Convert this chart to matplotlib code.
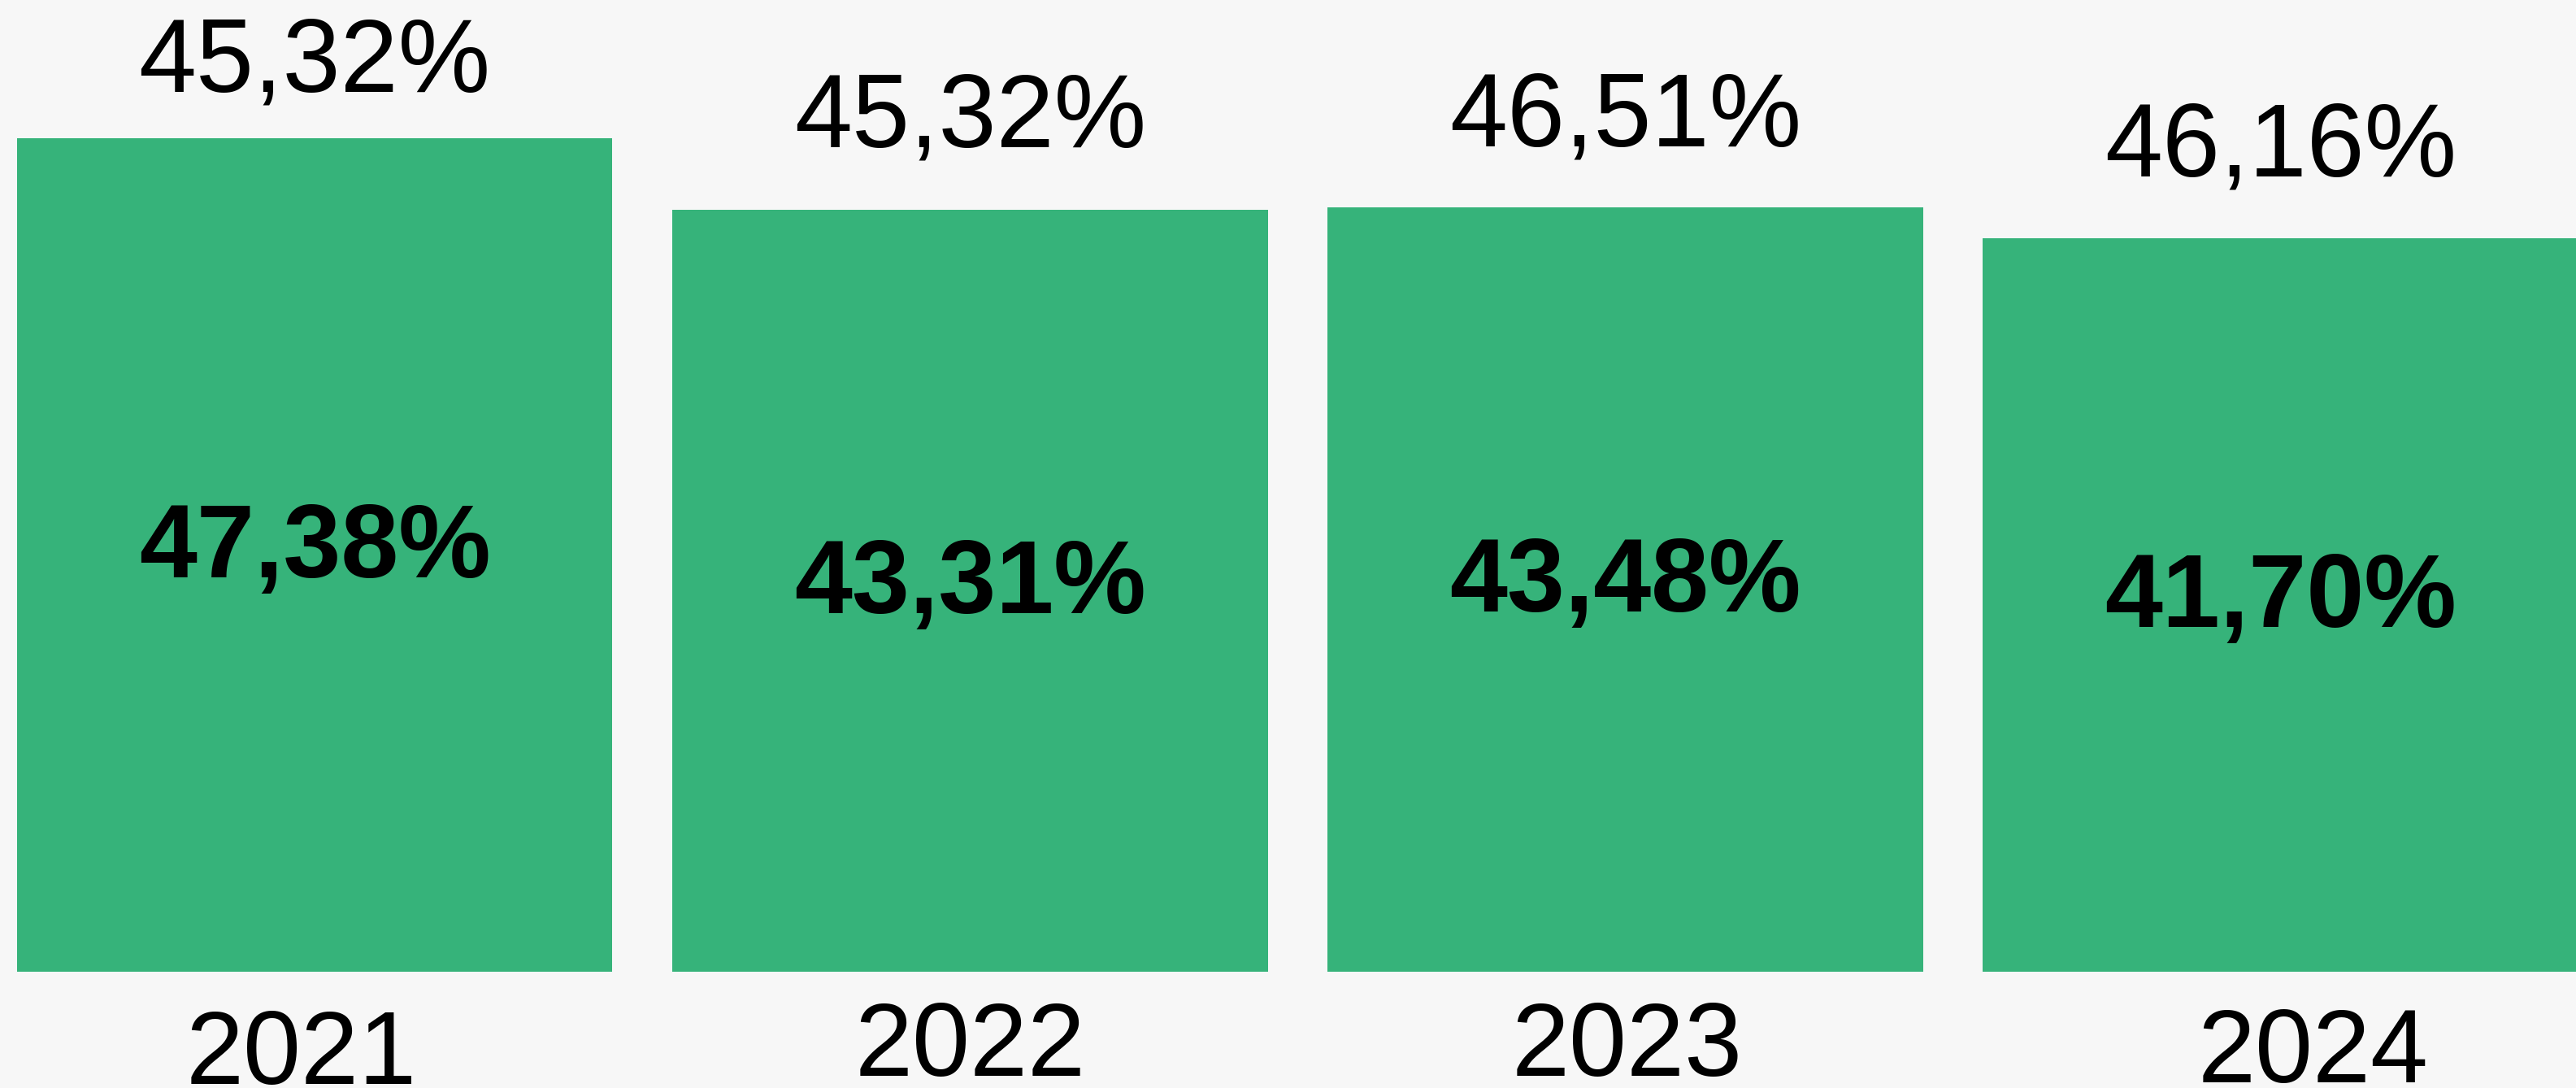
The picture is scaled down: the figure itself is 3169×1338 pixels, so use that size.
import matplotlib
matplotlib.use("Agg")
import matplotlib.pyplot as plt

# ---- data ----
years = ["2021", "2022", "2023", "2024"]
bar_values = [47.38, 43.31, 43.48, 41.70]
bar_labels = ["47,38%", "43,31%", "43,48%", "41,70%"]
top_labels = ["45,32%", "45,32%", "46,51%", "46,16%"]

# ---- styling / positions (pixel offsets converted to points at dpi 100) ----
BG = "#f7f7f7"
GREEN = "#36b37a"
FS = 92
top_gap_px = [58, 78, 75, 77]
year_dy_px = [138, 128, 128, 136]
year_dx_px = [-16, 0, 2, 40]
inner_dy_px = -27

W, H = 3169, 1338
fig = plt.figure(figsize=(W / 100, H / 100), dpi=100, facecolor=BG)
bottom_px = 1195
ax = fig.add_axes([0, (H - bottom_px) / H, 1, bottom_px / H])
ax.set_facecolor(BG)
px_per_unit = 21.63
ax.set_ylim(0, bottom_px / px_per_unit)
spacing = 806.3
ax.set_xlim(-387 / spacing, (W - 387) / spacing)
ax.axis("off")

x = list(range(len(years)))
ax.bar(x, bar_values, width=0.909, color=GREEN, edgecolor="none")

font = "Liberation Sans"
pt = 0.72
for i in x:
    ax.annotate(top_labels[i], (i, bar_values[i]), xytext=(0, top_gap_px[i] * pt),
                textcoords="offset points", ha="center", va="baseline",
                fontsize=FS, family=font, color="black", annotation_clip=False)
    ax.annotate(bar_labels[i], (i, bar_values[i] / 2), xytext=(0, inner_dy_px * pt),
                textcoords="offset points", ha="center", va="baseline",
                fontsize=FS, family=font, fontweight="bold", color="black",
                annotation_clip=False)
    ax.annotate(years[i], (i, 0), xytext=(year_dx_px[i] * pt, -year_dy_px[i] * pt),
                textcoords="offset points", ha="center", va="baseline",
                fontsize=FS, family=font, color="black", annotation_clip=False)

fig.savefig("out.png", dpi=100, facecolor=BG)
